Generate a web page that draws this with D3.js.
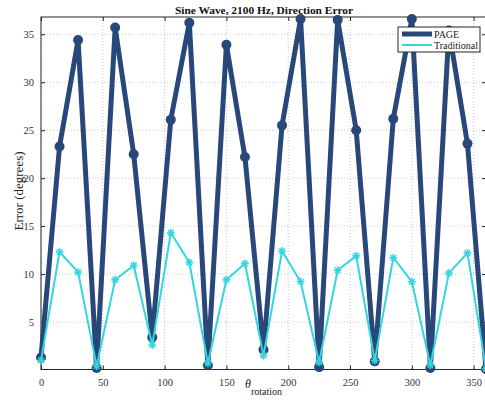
<!DOCTYPE html>
<html><head><meta charset="utf-8">
<script src="https://cdn.jsdelivr.net/npm/d3@7"></script>
<style>body{margin:0;background:#fff;} svg{display:block;}</style>
</head><body>
<svg id="c" width="485" height="404"></svg>
<script>
const angles = [0,15,30,45,60,75,90,105,120,135,150,165,180,195,210,225,240,255,270,285,300,315,330,345,360];
const pageErr = [1.3,23.3,34.4,0.2,35.7,22.5,3.4,26.1,36.2,0.5,33.9,22.2,2.1,25.5,36.6,0.3,36.5,25.0,0.9,26.2,36.6,0.2,35.4,23.6,0.1];
const tradErr = [1.0,12.3,10.2,0.4,9.4,10.9,2.6,14.3,11.2,0.7,9.4,11.1,1.5,12.4,9.2,0.8,10.4,11.9,1.0,11.7,9.2,0.5,10.1,12.2,0.1];
const xTicks = [0,50,100,150,200,250,300,350];
const yTicks = [5,10,15,20,25,30,35];
const seriesNames = ["PAGE","Traditional"];
const title = "Sine Wave, 2100 Hz, Direction Error";

const svg = d3.select("#c");
const L=41, R=486, T=17, B=369.5;
const x = d3.scaleLinear().domain([0,360]).range([L,R]);
const y = d3.scaleLinear().domain([0.05,36.8]).range([B,T]);
const navy="#28487a", cyan="#33d5e0", axc="#262626", font="'Liberation Serif','Times New Roman',serif";

// grid
const g = svg.append("g");
g.selectAll(".gx").data(xTicks).join("line").attr("x1",d=>x(d)).attr("x2",d=>x(d)).attr("y1",T).attr("y2",B)
 .attr("stroke","#c8c8c8").attr("stroke-width",1).attr("stroke-dasharray","1,2");
g.selectAll(".gy").data(yTicks).join("line").attr("y1",d=>y(d)).attr("y2",d=>y(d)).attr("x1",L).attr("x2",R)
 .attr("stroke","#c8c8c8").attr("stroke-width",1).attr("stroke-dasharray","1,2");

// axes
const xa = svg.append("g").attr("transform",`translate(0,${B})`).call(d3.axisBottom(x).tickValues(xTicks).tickSizeInner(-4).tickSizeOuter(0).tickPadding(9));
const xt = svg.append("g").attr("transform",`translate(0,${T})`).call(d3.axisTop(x).tickValues(xTicks).tickSizeInner(-4).tickSizeOuter(0).tickFormat(""));
const ya = svg.append("g").attr("transform",`translate(${L},0)`).call(d3.axisLeft(y).tickValues(yTicks).tickSizeInner(-4).tickSizeOuter(0).tickPadding(7));
const yr = svg.append("g").attr("transform",`translate(${R},0)`).call(d3.axisRight(y).tickValues(yTicks).tickSizeInner(-4).tickSizeOuter(0).tickFormat(""));
[xa,xt,ya,yr].forEach(a=>{
  a.selectAll("path").remove();
  a.selectAll("line").attr("stroke",axc);
  a.selectAll("text").attr("font-family",font).attr("font-size",10.5).attr("fill","#333");
});
// box
svg.append("rect").attr("x",L).attr("y",T).attr("width",R-L).attr("height",B-T).attr("fill","none").attr("stroke",axc).attr("stroke-width",1);

const line = d3.line().x((d,i)=>x(angles[i])).y(d=>y(d));
// PAGE
svg.append("path").datum(pageErr).attr("d",line).attr("fill","none").attr("stroke",navy).attr("stroke-width",5).attr("stroke-linejoin","round");
svg.selectAll(".pc").data(pageErr).join("circle").attr("cx",(d,i)=>x(angles[i])).attr("cy",d=>y(d)).attr("r",5).attr("fill",navy);
// Traditional
svg.append("path").datum(tradErr).attr("d",line).attr("fill","none").attr("stroke",cyan).attr("stroke-width",2).attr("stroke-linejoin","round");
tradErr.forEach((d,i)=>{
  const cx=x(angles[i]), cy=y(d), s=4;
  const gg=svg.append("g").attr("transform",`translate(${cx},${cy})`).attr("stroke",cyan).attr("stroke-width",1.5);
  gg.append("line").attr("x1",-s).attr("x2",s).attr("y1",0).attr("y2",0);
  gg.append("line").attr("x1",0).attr("x2",0).attr("y1",-s).attr("y2",s);
  gg.append("line").attr("x1",-s*0.7).attr("x2",s*0.7).attr("y1",-s*0.7).attr("y2",s*0.7);
  gg.append("line").attr("x1",-s*0.7).attr("x2",s*0.7).attr("y1",s*0.7).attr("y2",-s*0.7);
});

// legend
const lg = svg.append("g");
lg.append("rect").attr("x",398).attr("y",27).attr("width",82).attr("height",25).attr("fill","#fff").attr("stroke",axc).attr("stroke-width",1);
lg.append("line").attr("x1",402).attr("x2",432).attr("y1",34).attr("y2",34).attr("stroke",navy).attr("stroke-width",5);
lg.append("line").attr("x1",402).attr("x2",432).attr("y1",45).attr("y2",45).attr("stroke",cyan).attr("stroke-width",2);
lg.selectAll("text").data(seriesNames).join("text").attr("x",434).attr("y",(d,i)=>37.5+i*11).text(d=>d)
  .attr("font-family",font).attr("font-size",10).attr("fill","#222");

// title
svg.append("text").attr("x",264).attr("y",13.5).attr("text-anchor","middle").attr("font-family",font).attr("font-weight","bold").attr("font-size",11.4).attr("fill","#111").text(title);
// y label
svg.append("text").attr("transform","translate(23,191) rotate(-90)").attr("text-anchor","middle").attr("font-family",font).attr("font-size",13).attr("fill","#222").text("Error (degrees)");
// x label
const xl = svg.append("text").attr("x",245).attr("y",388).attr("font-family",font).attr("fill","#222");
xl.append("tspan").attr("font-style","italic").attr("font-size",12).text("θ");
xl.append("tspan").attr("font-size",10).attr("dy",7).text("rotation");
</script>
</body></html>
